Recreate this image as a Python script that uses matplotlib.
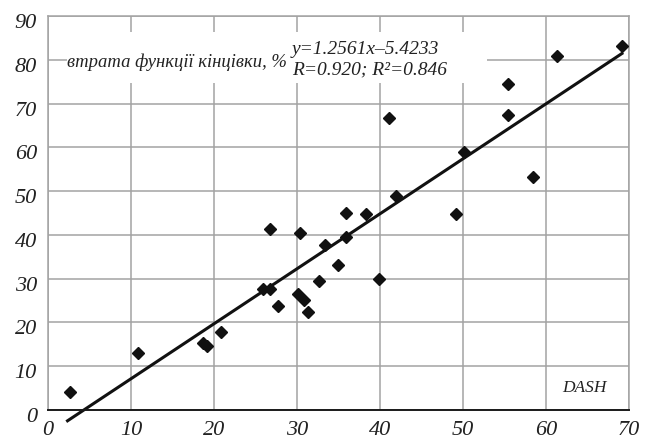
import matplotlib
matplotlib.use("Agg")
import matplotlib.pyplot as plt
import matplotlib.transforms as mtransforms
from matplotlib.patches import Rectangle
import numpy as np

# values
x_vals = [2.65, 10.8, 18.7, 19.1, 20.8,
          26.8, 30.4, 35.9, 38.3, 33.4, 35.9, 35.0, 32.6, 39.9,
          25.9, 26.7, 27.7, 30.1, 30.9, 31.3,
          41.1, 55.4, 50.1, 58.4, 41.9, 49.2,
          55.4, 61.3, 69.2]
y_vals = [4.05, 13.0, 15.3, 14.6, 17.8,
          41.3, 40.4, 44.9, 44.8, 37.8, 39.5, 33.1, 29.5, 29.9,
          27.7, 27.6, 23.8, 26.5, 25.2, 22.4,
          66.6, 67.3, 59.0, 53.3, 48.9, 44.8,
          74.4, 80.8, 83.2]
slope = 1.2561
intercept = -5.4233
fit_x = [2.2, 69.3]
x_ticks = [0, 10, 20, 30, 40, 50, 60, 70]
y_ticks = [0, 10, 20, 30, 40, 50, 60, 70, 80, 90]
label_text = "втрата функції кінцівки, %"
eq_line1 = "y=1.2561x–5.4233"
eq_line2 = "R=0.920; R²=0.846"

plt.rcParams['font.family'] = ['Liberation Serif', 'DejaVu Serif']
plt.rcParams['font.style'] = 'italic'

fig = plt.figure(figsize=(6.61, 4.42), dpi=100)
ax = fig.add_axes([48 / 661, 1 - 410 / 442, 581 / 661, 394 / 442])
ax.set_xlim(0, 70)
ax.set_ylim(0, 90)

grid_c = '#a3a3a3'
ax.set_xticks(x_ticks)
ax.set_yticks(y_ticks)
ax.set_xticklabels([str(v) for v in x_ticks], fontstyle='italic')
ax.set_yticklabels([str(v) for v in y_ticks], fontstyle='italic')
ax.grid(True, color=grid_c, linewidth=1.1, zorder=0)
ax.set_axisbelow(True)
for side in ['top', 'right', 'left']:
    ax.spines[side].set_color(grid_c)
    ax.spines[side].set_linewidth(1.1)
ax.spines['bottom'].set_color('#1a1a1a')
ax.spines['bottom'].set_linewidth(1.4)
ax.spines['bottom'].set_zorder(3)
ax.tick_params(length=0, labelsize=16, colors='#222222')
ax.tick_params(axis='x', pad=8)
ax.tick_params(axis='y', pad=8)
offset = mtransforms.ScaledTranslation(0, -5 / 100, fig.dpi_scale_trans)
for lab in ax.get_yticklabels():
    lab.set_transform(lab.get_transform() + offset)

# white box behind the annotations
ax.add_patch(Rectangle((2.3, 74.7), 50.6, 11.7, facecolor='white',
                       edgecolor='none', zorder=1))

fx = np.array(fit_x)
ax.plot(fx, slope * fx + intercept, color='#111111', linewidth=2.2,
        solid_capstyle='butt', clip_on=False, zorder=3)
ax.plot(x_vals, y_vals, linestyle='none', marker='D', markersize=6.5,
        color='#111111', zorder=4)

ax.text(2.3, 79.4, label_text, fontsize=13.4, va='center', ha='left',
        color='#222222', zorder=5)
ax.text(29.4, 82.3, eq_line1, fontsize=14, va='center', ha='left',
        color='#222222', zorder=5)
ax.text(29.4, 77.7, eq_line2, fontsize=14, va='center', ha='left',
        color='#222222', zorder=5)
ax.text(61.9, 5.1, "DASH", fontsize=12.5, va='center', ha='left',
        color='#222222', zorder=5)

fig.savefig('out.png', dpi=100)
